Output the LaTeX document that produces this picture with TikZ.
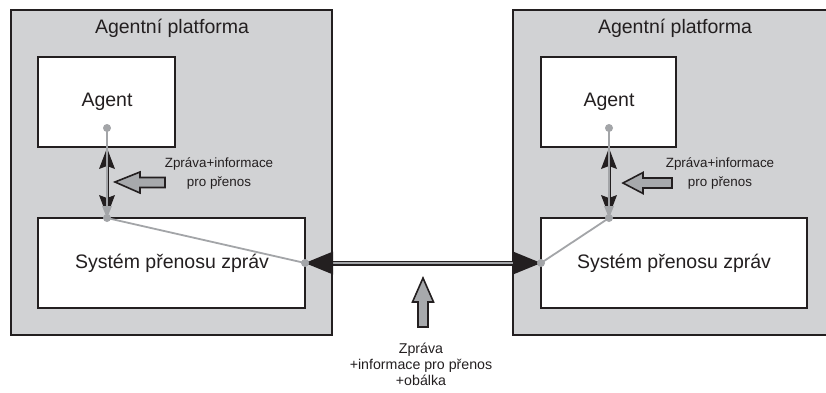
\documentclass[tikz,border=0pt]{standalone}
\usepackage{fontspec}
\setmainfont{Liberation Sans}
\definecolor{platgray}{HTML}{D1D2D4}
\definecolor{linkgray}{HTML}{A3A5A8}
\definecolor{blockgray}{HTML}{A7A9AC}
\definecolor{edge}{HTML}{231F20}
\begin{document}
\begin{tikzpicture}[x=1pt,y=-1pt,
  platform/.style={draw=edge,line width=2.4pt,fill=platgray},
  whitebox/.style={draw=edge,line width=2.2pt,fill=white},
  lbl/.style={font=\fontsize{19.5}{23}\selectfont,text=edge},
  small/.style={font=\fontsize{13.4}{19}\selectfont,text=edge,align=center},
  bottomtxt/.style={font=\fontsize{14.2}{16}\selectfont,text=edge,align=center},
  dot/.style={circle,fill=linkgray,inner sep=0pt,minimum size=8pt},
  link/.style={draw=linkgray,line width=1.8pt},
  blockarrow/.style={draw=edge,line width=1.6pt,fill=blockgray,line join=miter},
  headup/.style={insert path={-- ++(8,21) -- ++(-8,-3) -- ++(-8,3) -- cycle}},
  headdown/.style={insert path={-- ++(8,-21) -- ++(-8,3) -- ++(-8,-3) -- cycle}}
]
\useasboundingbox (0,0) rectangle (826,392);
\begin{scope}
\clip (0,0) rectangle (826,392);
% platforms
\draw[platform] (11,10) rectangle (332,335);
\draw[platform] (513,10) rectangle (840,335);
\end{scope}
\node[lbl] (p1) at (172,28) {Agentní platforma};
\node[lbl] (p2) at (675,28) {Agentní platforma};
% agents
\draw[whitebox] (38,57) rectangle (175,147);
\draw[whitebox] (541,57) rectangle (676,147);
\node[lbl] (a1) at (107,102) {Agent};
\node[lbl] (a2) at (609,102) {Agent};
% message transport systems
\draw[whitebox] (38,218) rectangle (305,308);
\draw[whitebox] (541,218) rectangle (807,308);
\node[lbl] (s1) at (172,263) {Systém přenosu zpráv};
\node[lbl] (s2) at (674,263) {Systém přenosu zpráv};
% anchor points
\coordinate (d1) at (107,128);
\coordinate (t1) at (107,218);
\coordinate (e1) at (305,263);
\coordinate (d2) at (609,128);
\coordinate (t2) at (609,218);
\coordinate (e2) at (541,263);
% agent <-> transport: black double arrow under the grey link
\draw[edge,line width=3pt] (107,164) -- (107,202);
\fill[edge] (107,148) [headup];
\fill[edge] (107,216) [headdown];
\draw[edge,line width=3pt] (609,164) -- (609,202);
\fill[edge] (609,148) [headup];
\fill[edge] (609,216) [headdown];
\draw[link] (d1) -- (t1) -- (e1);
\draw[link] (d2) -- (t2) -- (e2);
\fill[linkgray] (t1) -- ++(5,-12) -- ++(-10,0) -- cycle;
\fill[linkgray] (t2) -- ++(5,-12) -- ++(-10,0) -- cycle;
% link between platforms
\draw[draw=edge,line width=5pt] ([xshift=20pt]e1) -- ([xshift=-20pt]e2);
\draw[draw=linkgray,line width=1.8pt] (e1) -- (e2);
\fill[edge] (e1) -- ++(28,-11.5) -- ++(0,23) -- cycle;
\fill[edge] (e2) -- ++(-28,-11.5) -- ++(0,23) -- cycle;
\foreach \p in {d1,t1,e1,d2,t2,e2} \node[dot] at (\p) {};
% message labels
\node[small] (m1) at (219,173) {Zpráva+informace\\pro přenos};
\node[small] (m2) at (720,173) {Zpráva+informace\\pro přenos};
\node[bottomtxt] (m3) at (421,364) {Zpráva\\+informace pro přenos\\+obálka};
% block arrows
\draw[blockarrow] (115,182) -- (140,172) -- (140,177.5) -- (165,177.5) -- (165,187.5)
  -- (140,187.5) -- (140,193) -- cycle;
\draw[blockarrow] (623,183) -- (643,172.5) -- (643,178) -- (672,178) -- (672,188)
  -- (643,188) -- (643,193.5) -- cycle;
\draw[blockarrow] (423,278) -- (433.5,302) -- (428,302) -- (428,327) -- (418,327)
  -- (418,302) -- (412.5,302) -- cycle;
\end{tikzpicture}
\end{document}
